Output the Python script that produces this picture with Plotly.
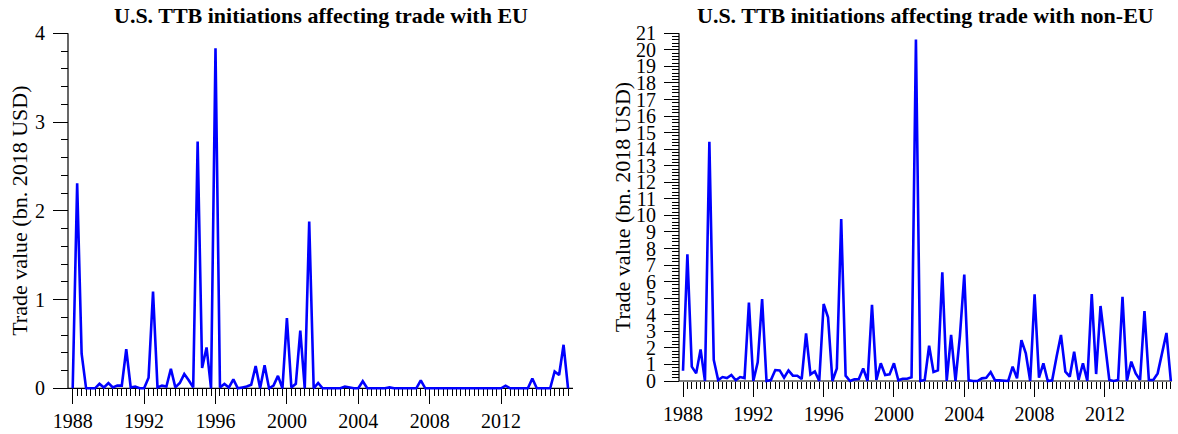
import plotly.graph_objects as go

# Quarterly series, 1988Q1 .. 2015Q4 (bn. 2018 USD)
start_year = 1988
eu_values = [
    0.00, 2.31, 0.39, 0.00, 0.00, 0.00, 0.05, 0.01, 0.06, 0.01, 0.03, 0.03,
    0.44, 0.01, 0.02, 0.00, 0.00, 0.12, 1.09, 0.01, 0.03, 0.02, 0.22, 0.01,
    0.06, 0.16, 0.09, 0.01, 2.78, 0.23, 0.46, 0.00, 3.83, 0.01, 0.05, 0.01,
    0.10, 0.00, 0.01, 0.02, 0.04, 0.25, 0.00, 0.26, 0.00, 0.03, 0.14, 0.00,
    0.79, 0.01, 0.05, 0.65, 0.00, 1.88, 0.00, 0.06, 0.00, 0.00, 0.00, 0.00,
    0.00, 0.02, 0.01, 0.00, 0.00, 0.08, 0.00, 0.00, 0.00, 0.00, 0.00, 0.01,
    0.00, 0.00, 0.00, 0.00, 0.00, 0.00, 0.09, 0.00, 0.00, 0.00, 0.00, 0.00,
    0.00, 0.00, 0.00, 0.00, 0.00, 0.00, 0.00, 0.00, 0.00, 0.00, 0.00, 0.00,
    0.00, 0.03, 0.00, 0.00, 0.00, 0.00, 0.00, 0.11, 0.00, 0.00, 0.00, 0.00,
    0.19, 0.15, 0.49, 0.00,
]
non_eu_values = [
    0.62, 7.65, 0.87, 0.46, 1.91, 0.00, 14.45, 1.27, 0.06, 0.24, 0.18, 0.36,
    0.04, 0.24, 0.18, 4.73, 0.00, 1.13, 4.95, 0.00, 0.06, 0.66, 0.64, 0.20,
    0.64, 0.32, 0.32, 0.12, 2.88, 0.40, 0.58, 0.00, 4.65, 3.85, 0.00, 0.76,
    9.78, 0.32, 0.00, 0.10, 0.12, 0.76, 0.00, 4.60, 0.06, 1.07, 0.36, 0.40,
    1.07, 0.04, 0.14, 0.14, 0.22, 20.62, 0.00, 0.06, 2.13, 0.54, 0.64, 6.57,
    0.00, 2.78, 0.00, 2.70, 6.43, 0.04, 0.00, 0.00, 0.16, 0.20, 0.54, 0.04,
    0.04, 0.00, 0.00, 0.87, 0.16, 2.47, 1.67, 0.00, 5.23, 0.20, 1.07, 0.00,
    0.04, 1.47, 2.78, 0.56, 0.26, 1.77, 0.06, 1.07, 0.00, 5.25, 0.42, 4.53,
    2.30, 0.06, 0.00, 0.06, 5.09, 0.00, 1.17, 0.46, 0.06, 4.22, 0.06, 0.06,
    0.46, 1.67, 2.90, 0.00,
]
year_ticks = [1988, 1992, 1996, 2000, 2004, 2008, 2012]
titles = [
    "U.S. TTB initiations affecting trade with EU",
    "U.S. TTB initiations affecting trade with non-EU",
]
y_title = "Trade value (bn. 2018 USD)"
y_max = [4, 21]

quarters = [start_year + i / 4 for i in range(len(eu_values))]

W, H = 1178, 434
SERIF = "Liberation Serif, Times New Roman, serif"
BLUE = "#0000ff"


def px(x):
    return x / W


def py(y):
    return 1 - y / H


# Panel geometry in pixels: y axis position, first quarter position and
# pixels per year, end of the time axis, zero line and top of value axis.
panels = [
    dict(axis_x=68, x0=72.7, x_scale=17.85, x_end=573, zero=388.3, top=33.3,
         ytitle_x=20),
    dict(axis_x=679, x0=683.0, x_scale=17.58, x_end=1172, zero=381.0, top=33.3,
         ytitle_x=622),
]

fig = go.Figure()
shapes = []
annotations = []
series = [eu_values, non_eu_values]

for i, (p, vals, ymax, title) in enumerate(zip(panels, series, y_max, titles)):
    n = i + 1
    xa = "xaxis" if n == 1 else f"xaxis{n}"
    ya = "yaxis" if n == 1 else f"yaxis{n}"
    xr = "x" if n == 1 else f"x{n}"
    yr = "y" if n == 1 else f"y{n}"

    fig.add_trace(go.Scatter(
        x=quarters, y=vals, mode="lines",
        line=dict(color=BLUE, width=2.6),
        xaxis=xr, yaxis=yr, showlegend=False, hoverinfo="skip",
    ))

    # plot area a little larger than the axes so the line is not clipped
    dom_l, dom_r = p["axis_x"] - 2, p["x_end"] + 4
    x_range = [start_year + (dom_l - p["x0"]) / p["x_scale"],
               start_year + (dom_r - p["x0"]) / p["x_scale"]]
    y_scale = (p["zero"] - p["top"]) / ymax
    dom_b, dom_t = p["zero"] + 5, p["top"] - 5
    y_range = [(p["zero"] - dom_b) / y_scale, (p["zero"] - dom_t) / y_scale]

    minor_x = [q for q in quarters if q not in year_ticks]
    fig.layout[xa] = dict(
        domain=[px(dom_l), px(dom_r)], range=x_range,
        anchor="free", position=py(p["zero"]),
        showline=False, showgrid=False, zeroline=False, automargin=False,
        tickmode="array", tickvals=year_ticks,
        ticktext=[str(t) for t in year_ticks],
        ticks="outside", ticklen=15, tickwidth=1.2, tickcolor="black",
        minor=dict(tickmode="array", tickvals=minor_x, ticks="outside",
                   ticklen=7, tickwidth=1.2, tickcolor="black", showgrid=False),
        tickfont=dict(family=SERIF, size=20, color="black"),
        ticklabelstandoff=0,
        layer="below traces",
    )

    major_y = list(range(0, ymax + 1))
    minor_y = [round(v * 0.2, 1) for v in range(0, ymax * 5 + 1) if v % 5]
    fig.layout[ya] = dict(
        domain=[py(dom_b), py(dom_t)], range=y_range,
        anchor="free", position=px(p["axis_x"]),
        showline=False, showgrid=False, zeroline=False, automargin=False,
        tickmode="array", tickvals=major_y,
        ticks="outside", ticklen=15, tickwidth=1.2, tickcolor="black",
        minor=dict(tickmode="array", tickvals=minor_y, ticks="outside",
                   ticklen=7, tickwidth=1.2, tickcolor="black", showgrid=False),
        tickfont=dict(family=SERIF, size=20, color="black"),
        ticklabelstandoff=4,
        layer="below traces",
    )

    # axis lines
    shapes.append(dict(type="line", xref="paper", yref="paper", layer="below",
                       x0=px(p["axis_x"]), x1=px(p["axis_x"]),
                       y0=py(p["zero"]), y1=py(p["top"]),
                       line=dict(color="black", width=1.2)))
    shapes.append(dict(type="line", xref="paper", yref="paper", layer="below",
                       x0=px(p["axis_x"]), x1=px(p["x_end"]),
                       y0=py(p["zero"]), y1=py(p["zero"]),
                       line=dict(color="black", width=1.2)))

    mid_x = (p["axis_x"] + p["x_end"]) / 2
    annotations.append(dict(
        text=f"<b>{title}</b>", xref="paper", yref="paper",
        x=px(mid_x), y=py(15), xanchor="center", yanchor="middle",
        showarrow=False, font=dict(family=SERIF, size=22, color="black"),
    ))
    annotations.append(dict(
        text=y_title, xref="paper", yref="paper", textangle=-90,
        x=px(p["ytitle_x"]),
        y=py((p["zero"] + p["top"]) / 2), xanchor="center", yanchor="middle",
        showarrow=False, font=dict(family=SERIF, size=22, color="black"),
    ))

fig.update_layout(
    width=W, height=H,
    margin=dict(l=0, r=0, t=0, b=0, pad=0, autoexpand=False),
    paper_bgcolor="white", plot_bgcolor="white",
    shapes=shapes, annotations=annotations,
)

fig.write_html("out.html")
